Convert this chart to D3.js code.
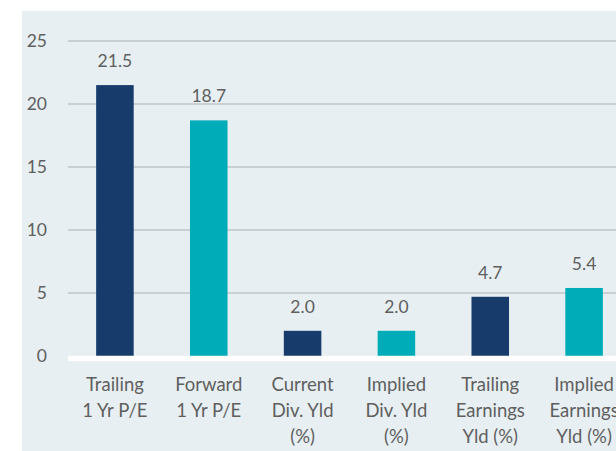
<!DOCTYPE html>
<html><head><meta charset="utf-8">
<script src="https://cdn.jsdelivr.net/npm/d3@7"></script>
<style>body{margin:0;background:#fff;}svg{display:block;font-family:Lato,"Liberation Sans",sans-serif;}</style>
</head><body><svg id="c" width="616" height="451"></svg>
<script>
const categories = [["Trailing","1 Yr P/E"],["Forward","1 Yr P/E"],["Current","Div. Yld","(%)"],["Implied","Div. Yld","(%)"],["Trailing","Earnings","Yld (%)"],["Implied","Earnings","Yld (%)"]];
const values = [21.5, 18.7, 2.0, 2.0, 4.7, 5.4];
const colors = ["#173c6b","#00acb8","#173c6b","#00acb8","#173c6b","#00acb8"];
const yTicks = [0,5,10,15,20,25];

const svg = d3.select("#c");
svg.append("rect").attr("x",22).attr("y",11).attr("width",594).attr("height",440).attr("fill","#e7eff2");

const x = d3.scaleBand().domain(d3.range(categories.length)).range([68,631]).paddingInner(0.6).paddingOuter(0.3);
const y = d3.scaleLinear().domain([0,25]).range([356,41]);

const g = svg.append("g");
g.selectAll("line.grid").data(yTicks.filter(d=>d>0)).join("line")
 .attr("x1",68).attr("x2",616).attr("y1",d=>y(d)).attr("y2",d=>y(d))
 .attr("stroke","#c0c4c6").attr("stroke-width",1.6);
const yAxis = d3.axisLeft(y).tickValues(yTicks).tickSize(0).tickPadding(0);
const ya = svg.append("g").attr("transform","translate(47,0)").call(yAxis);
ya.select(".domain").remove();
ya.selectAll("text").attr("font-size",17.5).attr("fill","#5f5f5f").attr("font-family","Lato,sans-serif");

g.selectAll("rect.bar").data(values).join("rect").attr("class","bar")
 .attr("x",(d,i)=>x(i)).attr("width",x.bandwidth())
 .attr("y",d=>y(d)).attr("height",d=>y(0)-y(d))
 .attr("fill",(d,i)=>colors[i]);
g.append("line").attr("x1",68).attr("x2",616).attr("y1",y(0)+2.5).attr("y2",y(0)+2.5)
 .attr("stroke","#ffffff").attr("stroke-width",5.5);
g.selectAll("text.val").data(values).join("text")
 .attr("x",(d,i)=>x(i)+x.bandwidth()/2).attr("y",d=>y(d)-18)
 .attr("text-anchor","middle").attr("font-size",17.5).attr("fill","#5f5f5f")
 .text(d=>d.toFixed(1));
const xl = g.selectAll("text.cat").data(categories).join("text")
 .attr("text-anchor","middle").attr("font-size",18.5).attr("fill","#5f5f5f");
xl.each(function(lines,i){
  d3.select(this).selectAll("tspan").data(lines).join("tspan")
   .attr("x",x(i)+x.bandwidth()/2).attr("y",(d,j)=>391+j*26).text(d=>d);
});
</script></body></html>
